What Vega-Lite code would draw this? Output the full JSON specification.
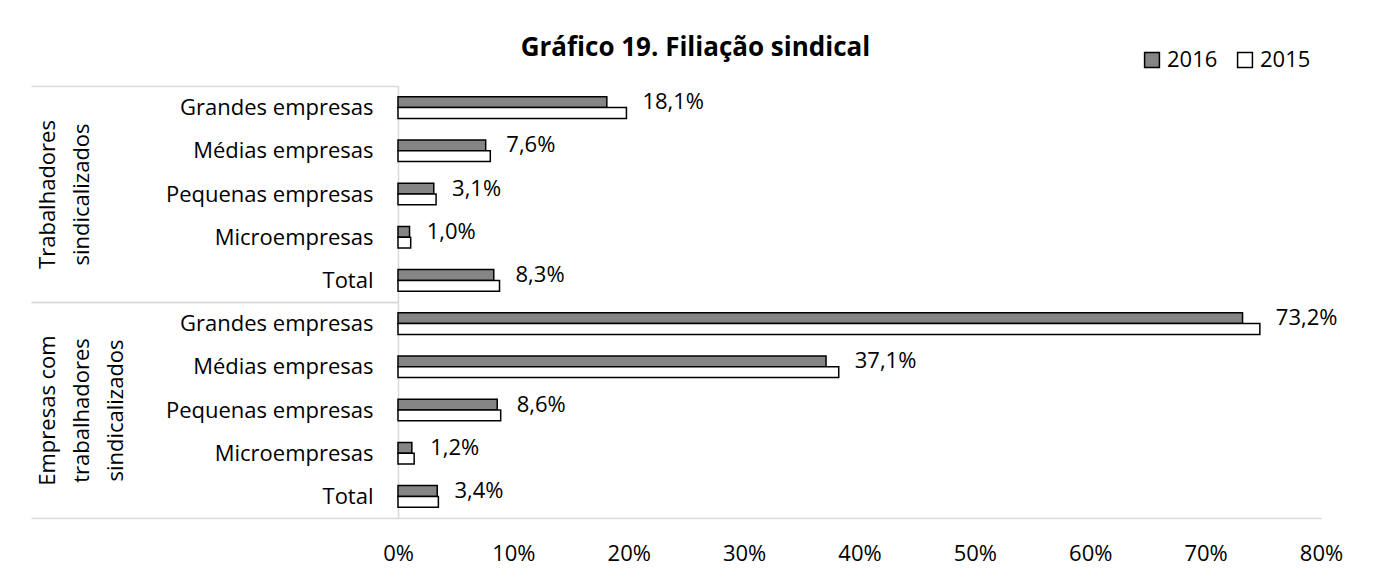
{
  "$schema": "https://vega.github.io/schema/vega-lite/v6.json",
  "padding": {"left": 30, "top": 35, "right": 10, "bottom": 10},
  "title": {"text": "Gráfico 19. Filiação sindical", "font": "Open Sans", "fontSize": 26, "fontWeight": "bold", "color": "#000000", "anchor": "middle", "frame": "bounds", "offset": -12, "dx": 9},
  "datasets": {
    "rows": [
      {"group": "T", "cat": "Grandes empresas", "year": "2016", "value": 0.181},
      {"group": "T", "cat": "Grandes empresas", "year": "2015", "value": 0.198},
      {"group": "T", "cat": "Médias empresas", "year": "2016", "value": 0.076},
      {"group": "T", "cat": "Médias empresas", "year": "2015", "value": 0.080},
      {"group": "T", "cat": "Pequenas empresas", "year": "2016", "value": 0.031},
      {"group": "T", "cat": "Pequenas empresas", "year": "2015", "value": 0.033},
      {"group": "T", "cat": "Microempresas", "year": "2016", "value": 0.010},
      {"group": "T", "cat": "Microempresas", "year": "2015", "value": 0.011},
      {"group": "T", "cat": "Total", "year": "2016", "value": 0.083},
      {"group": "T", "cat": "Total", "year": "2015", "value": 0.088},
      {"group": "E", "cat": "Grandes empresas", "year": "2016", "value": 0.732},
      {"group": "E", "cat": "Grandes empresas", "year": "2015", "value": 0.747},
      {"group": "E", "cat": "Médias empresas", "year": "2016", "value": 0.371},
      {"group": "E", "cat": "Médias empresas", "year": "2015", "value": 0.382},
      {"group": "E", "cat": "Pequenas empresas", "year": "2016", "value": 0.086},
      {"group": "E", "cat": "Pequenas empresas", "year": "2015", "value": 0.089},
      {"group": "E", "cat": "Microempresas", "year": "2016", "value": 0.012},
      {"group": "E", "cat": "Microempresas", "year": "2015", "value": 0.014},
      {"group": "E", "cat": "Total", "year": "2016", "value": 0.034},
      {"group": "E", "cat": "Total", "year": "2015", "value": 0.035}
    ]
  },
  "data": {"name": "rows"},
  "transform": [
    {"joinaggregate": [{"op": "max", "field": "value", "as": "maxv"}], "groupby": ["group", "cat"]}
  ],
  "spacing": 0,
  "bounds": "flush",
  "resolve": {"scale": {"x": "shared", "fill": "shared"}},
  "vconcat": [
    {
      "width": 923,
      "height": 216,
      "transform": [{"filter": "datum.group === 'T'"}],
      "encoding": {
        "y": {
          "field": "cat", "type": "nominal",
          "sort": ["Grandes empresas", "Médias empresas", "Pequenas empresas", "Microempresas", "Total"],
          "scale": {"paddingInner": 0, "paddingOuter": 0},
          "axis": {
            "title": ["Trabalhadores", "sindicalizados"],
            "titleAngle": -90,
            "titleBaseline": "top",
            "titleAlign": "center",
            "titleX": -361,
            "titleLineHeight": 34,
            "titleFont": "Open Sans",
            "titleFontSize": 22,
            "titleFontWeight": "normal",
            "titleColor": "#000000",
            "domainColor": "#d9d9d9",
            "domainWidth": 1.5,
            "tickBand": "extent",
            "tickSize": 367,
            "tickColor": "#d9d9d9",
            "tickWidth": 1.5,
            "tickOpacity": {"condition": {"test": "datum.value === 'Total' || datum.extra", "value": 1}, "value": 0},
            "labelPadding": -342,
            "labelLimit": 400,
            "labelFont": "Open Sans",
            "labelFontSize": 22,
            "labelColor": "#000000"
          }
        },
        "x": {
          "field": "value", "type": "quantitative",
          "scale": {"domain": [0, 0.8], "nice": false},
          "axis": null
        }
      },
      "layer": [
        {
          "mark": {"type": "bar", "stroke": "#000000", "strokeWidth": 1.5},
          "encoding": {
            "yOffset": {"field": "year", "type": "nominal", "sort": ["2016", "2015"], "scale": {"paddingInner": 0, "paddingOuter": 1.05}},
            "fill": {
              "field": "year", "type": "nominal",
              "scale": {"domain": ["2016", "2015"], "range": ["#858585", "#ffffff"]},
              "legend": {
                "title": null,
                "orient": "none",
                "direction": "horizontal",
                "legendX": 743,
                "legendY": -37,
                "symbolType": "square",
                "symbolSize": 220,
                "symbolStrokeColor": "#000000",
                "symbolStrokeWidth": 1.5,
                "labelFont": "Open Sans",
                "labelFontSize": 22,
                "labelColor": "#000000",
                "columnPadding": 16
              }
            }
          }
        },
        {
          "transform": [{"filter": "datum.year === '2016'"}],
          "mark": {"type": "text", "align": "left", "baseline": "middle", "dx": 16, "font": "Open Sans", "fontSize": 22, "color": "#000000"},
          "encoding": {
            "yOffset": {"field": "year", "type": "nominal", "sort": ["2016", "2015"], "scale": {"paddingInner": 0, "paddingOuter": 1.05}},
            "x": {"field": "maxv", "type": "quantitative"},
            "text": {"field": "value", "type": "quantitative", "format": ".1%"}
          }
        }
      ]
    },
    {
      "width": 923,
      "height": 216,
      "transform": [{"filter": "datum.group === 'E'"}],
      "encoding": {
        "y": {
          "field": "cat", "type": "nominal",
          "sort": ["Grandes empresas", "Médias empresas", "Pequenas empresas", "Microempresas", "Total"],
          "scale": {"paddingInner": 0, "paddingOuter": 0},
          "axis": {
            "title": ["Empresas com", "trabalhadores", "sindicalizados"],
            "titleAngle": -90,
            "titleBaseline": "top",
            "titleAlign": "center",
            "titleX": -361,
            "titleLineHeight": 34,
            "titleFont": "Open Sans",
            "titleFontSize": 22,
            "titleFontWeight": "normal",
            "titleColor": "#000000",
            "domainColor": "#d9d9d9",
            "domainWidth": 1.5,
            "tickBand": "extent",
            "tickSize": 367,
            "tickColor": "#d9d9d9",
            "tickWidth": 1.5,
            "tickOpacity": {"condition": {"test": "datum.value === 'Total' || datum.extra", "value": 1}, "value": 0},
            "labelPadding": -342,
            "labelLimit": 400,
            "labelFont": "Open Sans",
            "labelFontSize": 22,
            "labelColor": "#000000"
          }
        },
        "x": {
          "field": "value", "type": "quantitative",
          "scale": {"domain": [0, 0.8], "nice": false},
          "axis": {
            "title": null,
            "format": ".0%",
            "values": [0, 0.1, 0.2, 0.3, 0.4, 0.5, 0.6, 0.7, 0.8],
            "grid": false,
            "ticks": false,
            "labelFlush": false,
            "domainColor": "#d9d9d9",
            "domainWidth": 1.5,
            "labelPadding": 25,
            "labelFont": "Open Sans",
            "labelFontSize": 22,
            "labelColor": "#000000"
          }
        }
      },
      "layer": [
        {
          "mark": {"type": "bar", "stroke": "#000000", "strokeWidth": 1.5},
          "encoding": {
            "yOffset": {"field": "year", "type": "nominal", "sort": ["2016", "2015"], "scale": {"paddingInner": 0, "paddingOuter": 1.05}},
            "fill": {"field": "year", "type": "nominal", "legend": null}
          }
        },
        {
          "transform": [{"filter": "datum.year === '2016'"}],
          "mark": {"type": "text", "align": "left", "baseline": "middle", "dx": 16, "font": "Open Sans", "fontSize": 22, "color": "#000000"},
          "encoding": {
            "yOffset": {"field": "year", "type": "nominal", "sort": ["2016", "2015"], "scale": {"paddingInner": 0, "paddingOuter": 1.05}},
            "x": {"field": "maxv", "type": "quantitative"},
            "text": {"field": "value", "type": "quantitative", "format": ".1%"}
          }
        }
      ]
    }
  ],
  "config": {
    "locale": {"number": {"decimal": ",", "thousands": ".", "grouping": [3], "currency": ["", " €"]}},
    "view": {"stroke": null},
    "font": "Open Sans"
  }
}
